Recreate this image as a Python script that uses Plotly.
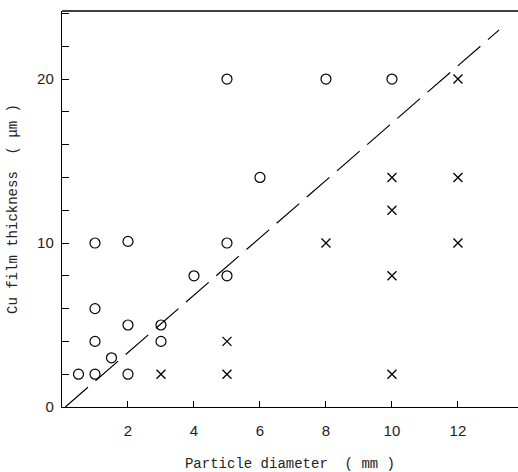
import plotly.graph_objects as go

# Data
circle_x = [0.5, 1, 1, 1, 1, 1.5, 2, 2, 2, 3, 3, 4, 5, 5, 5, 6, 8, 10]
circle_y = [2, 2, 4, 6, 10, 3, 2, 5, 10.1, 4, 5, 8, 8, 10, 20, 14, 20, 20]
cross_x = [3, 5, 5, 8, 10, 10, 10, 10, 12, 12, 12]
cross_y = [2, 2, 4, 10, 2, 8, 12, 14, 10, 14, 20]
fit_x = [0.1, 13.25]
fit_y = [0.0, 23.0]
x_ticks = [2, 4, 6, 8, 10, 12]
y_ticks = [0, 10, 20]

fig = go.Figure()
fig.add_trace(go.Scatter(x=fit_x, y=fit_y, mode="lines",
                         line=dict(color="black", width=1.2, dash="30px,10px"),
                         showlegend=False, hoverinfo="skip"))
fig.add_trace(go.Scatter(x=circle_x, y=circle_y, mode="markers",
                         marker=dict(symbol="circle-open", size=10, color="black",
                                     line=dict(width=1.2, color="black")),
                         showlegend=False))
fig.add_trace(go.Scatter(x=cross_x, y=cross_y, mode="markers",
                         marker=dict(symbol="x-thin-open", size=9, color="black",
                                     line=dict(width=1.3, color="black")),
                         showlegend=False))

tick_font = dict(family="Liberation Sans Narrow, Liberation Sans, sans-serif", size=15, color="#222")
title_font = dict(family="Liberation Mono, DejaVu Sans Mono, monospace", size=14, color="#222")

fig.update_layout(
    width=518, height=472,
    margin=dict(l=62, r=0, t=11, b=65),
    paper_bgcolor="white", plot_bgcolor="white",
    xaxis=dict(range=[0, 13.82], tickvals=x_ticks, ticks="inside", ticklen=6,
               tickwidth=1.2, tickcolor="black", showline=True, linecolor="black",
               linewidth=1.4, mirror=False, showgrid=False, zeroline=False,
               tickfont=tick_font, automargin=False, ticklabelstandoff=10,
               title=dict(text="Particle diameter  ( mm )", font=title_font, standoff=26)),
    yaxis=dict(range=[0, 24.15], tickvals=y_ticks, ticks="inside", ticklen=7,
               tickwidth=1.2, tickcolor="black", showline=True, linecolor="black",
               linewidth=1.4, mirror=False, showgrid=False, zeroline=False, tickfont=tick_font,
               automargin=False, ticklabelstandoff=4,
               minor=dict(dtick=2, ticks="inside", ticklen=7, tickwidth=1.2,
                          tickcolor="black", showgrid=False),
               title=dict(text="Cu film thickness  ( μm )", font=title_font, standoff=16)),
    shapes=[dict(type="line", xref="paper", yref="paper", x0=0, x1=1, y0=1, y1=1,
                 line=dict(color="black", width=1.4))],
)

fig.write_html("out.html", config={"displayModeBar": False},
               post_script="document.body.style.margin='0';"
                           "document.body.style.overflow='hidden';"
                           "document.documentElement.style.overflow='hidden';")
